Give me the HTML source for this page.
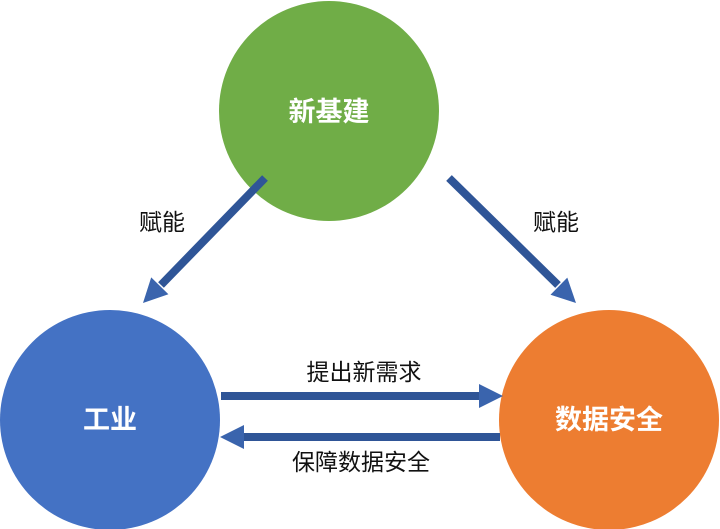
<!DOCTYPE html>
<html><head><meta charset="utf-8"><style>
body{margin:0;background:#fff;}
svg{display:block;font-family:"Liberation Sans","Noto Sans CJK SC",sans-serif;}
</style></head><body>
<svg width="720" height="529" viewBox="0 0 720 529">
<circle cx="329" cy="111" r="110" fill="#70ad47"/>
<circle cx="110" cy="420" r="110" fill="#4472c4"/>
<circle cx="609" cy="420" r="110" fill="#ed7d31"/>
<g stroke="#2f5597" stroke-width="8" fill="none">
<line x1="265" y1="178" x2="161" y2="285"/>
<line x1="449" y1="178" x2="558" y2="285"/>
<line x1="221" y1="396" x2="480" y2="396"/>
<line x1="500" y1="437" x2="242" y2="437"/>
</g>
<g fill="#3a64ad">
<polygon points="143,303 168.4,294.2 151.2,277.4"/>
<polygon points="576,303 550.5,294.8 567.3,277.6"/>
<polygon points="503,396 479,384 479,408"/>
<polygon points="220,437 244,425 244,449"/>
</g>
<g font-weight="bold" fill="#fff" font-size="27" text-anchor="middle">
<text x="329" y="121">新基建</text>
<text x="110" y="429">工业</text>
<text x="609" y="429">数据安全</text>
</g>
<g fill="#111" font-size="23" text-anchor="middle">
<text x="162" y="230">赋能</text>
<text x="556" y="230">赋能</text>
<text x="364" y="380">提出新需求</text>
<text x="361" y="470">保障数据安全</text>
</g>
</svg>
</body></html>
